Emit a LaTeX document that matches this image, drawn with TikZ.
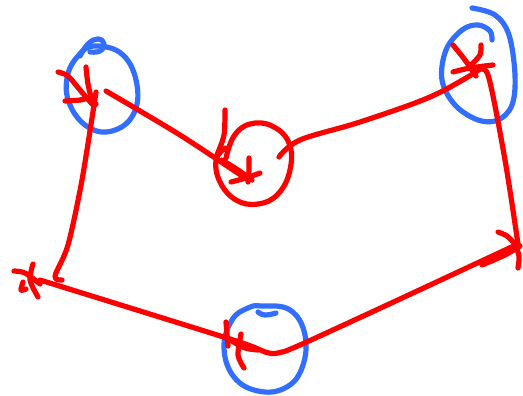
\documentclass[tikz,border=0pt]{standalone}
\begin{document}
\begin{tikzpicture}[x=1pt,y=-1pt,
  redline/.style={draw=red,line width=5.2pt,line cap=round,line join=round},
  blueline/.style={draw={rgb,255:red,50;green,110;blue,255},line width=5.2pt,line cap=round,line join=round}]
\useasboundingbox (0,0) rectangle (523,396);
\coordinate (A) at (96,92);
\coordinate (L) at (52,278);
\coordinate (C) at (245,178);
\coordinate (TR) at (476,72);
\coordinate (R) at (518,244);
\coordinate (B) at (278,353);
% blue circles
\draw[blueline] plot[smooth cycle,tension=0.7] coordinates {(95,46) (123,55) (137,85) (133,115) (112,131) (88,127) (70,105) (67,78) (78,56)};
\draw[blueline] plot[smooth,tension=0.8] coordinates {(80,56) (88,44) (98,39) (104,44) (100,51) (90,52)};
\draw[blueline] plot[smooth,tension=0.6] coordinates {(472,8) (495,15) (509,35) (515,75) (512,105) (498,120) (478,120) (455,105) (442,80) (446,50) (462,30) (478,25) (490,31) (492,40)};
\draw[blueline] plot[smooth cycle,tension=0.7] coordinates {(262,306) (290,310) (305,335) (302,368) (285,388) (258,391) (234,377) (224,348) (232,320) (248,308)};
\draw[blueline] plot[smooth,tension=0.8] coordinates {(258,312) (265,315) (276,313)};
% red circle
\draw[redline] plot[smooth,tension=0.7] coordinates {(226,158) (234,136) (250,124) (272,126) (289,143) (290,170) (278,194) (258,204) (236,200) (220,182) (216,160) (225,148)};
% edges
\draw[redline] plot[smooth,tension=0.5] coordinates {(A) (82,180) (68,245) (55,276) (62,280)};
\draw[redline] plot[smooth,tension=0.5] coordinates {(106,91) (180,135) (C)};
\draw[redline] plot[smooth,tension=0.6] coordinates {(279,157) (300,140) (360,122) (430,97) (TR)};
\draw[redline] plot[smooth,tension=0.5] coordinates {(TR) (488,75) (505,160) (R)};
\draw[redline] plot[smooth,tension=0.5] coordinates {(R) (400,299) (300,345) (B) (265,352) (233,340) (40,280)};
% crosses
\draw[redline] plot[smooth] coordinates {(58,72) (68,76) (80,90) (92,104)};
\draw[redline] plot[smooth] coordinates {(86,67) (88,84) (93,104) (96,104)};
\draw[redline] plot[smooth] coordinates {(65,101) (80,100) (92,97)};
\draw[redline] plot[smooth] coordinates {(225,110) (224,135) (217,155)};
\draw[redline] plot[smooth] coordinates {(222,160) (238,170) (252,180)};
\draw[redline] plot[smooth] coordinates {(249,158) (249,170) (248,182)};
\draw[redline] plot[smooth] coordinates {(231,182) (246,178) (260,173)};
\draw[redline] plot[smooth] coordinates {(453,45) (465,60) (476,76)};
\draw[redline] plot[smooth] coordinates {(481,45) (480,55) (471,65)};
\draw[redline] plot[smooth] coordinates {(453,72) (470,68) (493,65)};
\draw[redline] plot[smooth] coordinates {(14,271) (25,273) (40,284)};
\draw[redline] plot[smooth] coordinates {(33,264) (30,280) (38,297)};
\draw[redline] plot[smooth] coordinates {(23,282) (21,290) (26,289)};
\draw[redline] plot[smooth] coordinates {(226,322) (228,346)};
\draw[redline] plot[smooth] coordinates {(241,334) (238,355) (244,368)};
\draw[redline] plot[smooth] coordinates {(230,340) (245,348) (258,350)};
\draw[redline] plot[smooth] coordinates {(498,232) (507,236) (516,245)};
\draw[redline] plot[smooth] coordinates {(482,265) (505,255) (520,246)};
\draw[redline] plot[smooth] coordinates {(515,244) (519,256) (518,268)};
\end{tikzpicture}
\end{document}
